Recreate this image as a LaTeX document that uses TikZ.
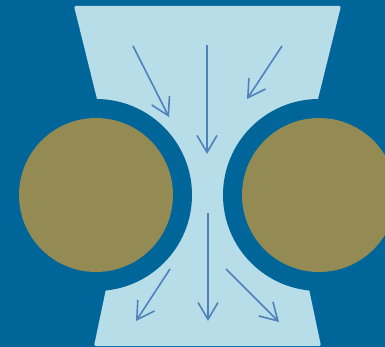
\documentclass[tikz,border=0pt]{standalone}
\usetikzlibrary{arrows.meta}
\definecolor{darkbg}{HTML}{006699}
\definecolor{lightfill}{HTML}{B7DDE8}
\definecolor{olivefill}{HTML}{948A54}
\definecolor{arrowcol}{HTML}{4F81BD}
\tikzset{
  flow/.style={draw=arrowcol, line width=1.6pt, -{Straight Barb[length=17pt,width=20pt,line width=1.6pt]}},
  ring/.style={fill=darkbg, draw=none},
  core/.style={fill=olivefill, draw=none}
}
\begin{document}
\begin{tikzpicture}[x=1pt,y=-1pt]
\useasboundingbox (0,0) rectangle (385,347);
\fill[darkbg] (0,0) rectangle (385,347);
\fill[lightfill, rounded corners=1.5pt] (74,6) -- (341,6) -- (318,99) -- (309,289) -- (321,346) -- (94,346) -- (106,289) -- (97,99) -- cycle;
% rings and cores
\fill[ring] (96,195) circle[radius=96];
\fill[ring] (319,195) circle[radius=96];
\fill[core] (96,195) circle[radius=77];
\fill[core] (319,195) circle[radius=77];
% arrows
\coordinate (a1s) at (133,46); \coordinate (a1e) at (169,117);
\coordinate (a2s) at (207,45); \coordinate (a2e) at (207,154);
\coordinate (a3s) at (282,46); \coordinate (a3e) at (247,99);
\coordinate (b1s) at (170,269); \coordinate (b1e) at (136,321);
\coordinate (b2s) at (208,213); \coordinate (b2e) at (208,321);
\coordinate (b3s) at (226,269); \coordinate (b3e) at (279,322);
\draw[flow] (a1s) -- (a1e);
\draw[flow] (a2s) -- (a2e);
\draw[flow] (a3s) -- (a3e);
\draw[flow] (b1s) -- (b1e);
\draw[flow] (b2s) -- (b2e);
\draw[flow] (b3s) -- (b3e);
\end{tikzpicture}
\end{document}
